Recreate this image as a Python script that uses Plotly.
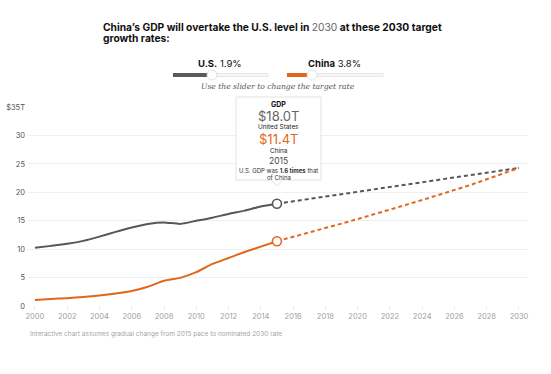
import plotly.graph_objects as go

# ---------------- data ----------------
hist_years = list(range(2000, 2016))
us_hist = [10.25, 10.58, 10.94, 11.46, 12.21, 13.04, 13.81, 14.45, 14.71, 14.45,
           14.99, 15.54, 16.20, 16.78, 17.52, 18.00]
china_hist = [1.05, 1.22, 1.38, 1.58, 1.85, 2.20, 2.65, 3.40, 4.45, 4.95,
              5.95, 7.40, 8.45, 9.50, 10.45, 11.40]

proj_years = list(range(2015, 2031))
us_proj = [18.00, 18.42, 18.84, 19.26, 19.68, 20.10, 20.52, 20.94, 21.36, 21.78,
           22.20, 22.62, 23.04, 23.46, 23.88, 24.30]
china_proj = [11.40, 12.15, 12.90, 13.70, 14.50, 15.30, 16.10, 16.95, 17.80, 18.65,
              19.50, 20.40, 21.30, 22.30, 23.30, 24.30]

x_ticks = list(range(2000, 2031, 2))
y_ticks = [0, 5, 10, 15, 20, 25, 30, 35]
y_ticktext = ["0", "5", "10", "15", "20", "25", "30", "$35T"]

us_rate = "1.9%"
china_rate = "3.8%"

GRAY = "#575757"
ORANGE = "#e2661a"

W, H = 551, 374
L, R, T, B = 28, 23, 107, 68


def px(x):
    return (x - L) / (W - L - R)


def py(y):
    return (H - B - y) / (H - T - B)


fig = go.Figure()

fig.add_trace(go.Scatter(x=hist_years, y=us_hist, mode="lines",
                         line=dict(color=GRAY, width=2, shape="spline", smoothing=0.6),
                         hoverinfo="skip"))
fig.add_trace(go.Scatter(x=hist_years, y=china_hist, mode="lines",
                         line=dict(color=ORANGE, width=2, shape="spline", smoothing=0.6),
                         hoverinfo="skip"))
fig.add_trace(go.Scatter(x=proj_years, y=us_proj, mode="lines",
                         line=dict(color=GRAY, width=2, dash="4px,3px"),
                         hoverinfo="skip"))
fig.add_trace(go.Scatter(x=proj_years, y=china_proj, mode="lines",
                         line=dict(color=ORANGE, width=2, dash="4px,3px"),
                         hoverinfo="skip"))
fig.add_trace(go.Scatter(x=[hist_years[-1]], y=[us_hist[-1]], mode="markers",
                         marker=dict(size=9, color="white", line=dict(color=GRAY, width=1.6)),
                         hoverinfo="skip"))
fig.add_trace(go.Scatter(x=[hist_years[-1]], y=[china_hist[-1]], mode="markers",
                         marker=dict(size=9, color="white", line=dict(color=ORANGE, width=1.6)),
                         hoverinfo="skip"))

shapes = []
# sliders
for x0, x1, xf, xk, col in [(173, 268, 209, 212, "#5a5a5a"), (287, 383, 308, 312, ORANGE)]:
    shapes.append(dict(type="rect", xref="paper", yref="paper",
                       x0=px(x0), x1=px(x1), y0=py(76.5), y1=py(73.5),
                       fillcolor="#f7f7f7", line=dict(color="#e2e2e2", width=0.8)))
    shapes.append(dict(type="rect", xref="paper", yref="paper",
                       x0=px(x0), x1=px(xf), y0=py(77), y1=py(73),
                       fillcolor=col, line=dict(width=0)))
    shapes.append(dict(type="circle", xref="paper", yref="paper",
                       x0=px(xk - 5), x1=px(xk + 5), y0=py(80), y1=py(70),
                       fillcolor="white", line=dict(color="#dadada", width=0.8)))
# tooltip box
shapes.append(dict(type="rect", xref="paper", yref="paper",
                   x0=px(236), x1=px(321), y0=py(180), y1=py(97),
                   fillcolor="white", line=dict(color="#dcdcdc", width=0.8)))
shapes.append(dict(type="path", xref="paper", yref="paper",
                   path=f"M {px(271)} {py(180)} L {px(277)} {py(186)} L {px(283)} {py(180)} Z",
                   fillcolor="white", line=dict(color="#dcdcdc", width=0.8)))
shapes.append(dict(type="line", xref="paper", yref="paper",
                   x0=px(271.7), x1=px(282.3), y0=py(180), y1=py(180),
                   line=dict(color="white", width=1.6)))

TF = "Inter, Liberation Sans, Arial, sans-serif"
ann = []


def A(text, x, y, size, color="#111", family=TF, xanchor="center"):
    ann.append(dict(text=text, x=px(x), y=py(y), xref="paper", yref="paper",
                    xanchor=xanchor, yanchor="middle", showarrow=False,
                    font=dict(size=size, color=color, family=family)))


A("<b>China’s GDP will overtake the U.S. level in </b><span style='color:#666'>2030</span><b> at these 2030 target</b>",
  101, 27.5, 10.25, xanchor="left")
A("<b>growth rates:</b>", 101, 38.5, 10.25, xanchor="left")
A(f"<b>U.S.</b> {us_rate}", 220, 63.5, 9.5)
A(f"<b>China</b> {china_rate}", 334.5, 63.5, 9.5)
A("<i>Use the slider to change the target rate</i>", 278, 86.5, 7.6, color="#555",
  family="DejaVu Serif, Liberation Serif, serif")

A("<b>GDP</b>", 278.5, 105, 7)
A(f"${us_hist[-1]:.1f}T", 278.5, 115.5, 13, color="#666")
A("United States", 278.5, 127.5, 6.4, color="#222")
A(f"${china_hist[-1]:.1f}T", 278.5, 139, 13, color=ORANGE)
A("China", 278.5, 150.5, 6.4, color="#222")
A(f"{hist_years[-1]}", 278.5, 161, 8.5, color="#444")
A(f"U.S. GDP was <b>{us_hist[-1] / china_hist[-1]:.1f} times</b> that", 278.5, 170.5, 6.0, color="#333")
A("of China", 278.5, 177, 6.0, color="#333")

A("Interactive chart assumes gradual change from 2015 pace to nominated 2030 rate",
  28, 334, 6.5, color="#a5a5a5", xanchor="left")

fig.update_layout(
    width=W, height=H,
    margin=dict(l=L, r=R, t=T, b=B, autoexpand=False),
    paper_bgcolor="white", plot_bgcolor="white",
    showlegend=False,
    shapes=shapes, annotations=ann,
    font=dict(family=TF),
    xaxis=dict(range=[1999.57, 2030.56], tickvals=x_ticks, showgrid=False, zeroline=False,
               ticks="outside", ticklen=3, tickcolor="#e4e4e4", automargin=False,
               showline=False, tickfont=dict(size=7.5, color="#a0a0a0", family=TF),
               fixedrange=True),
    yaxis=dict(range=[0, 35.02], tickvals=y_ticks, ticktext=y_ticktext, automargin=False,
               showgrid=True, gridcolor="#efefef", gridwidth=1, zeroline=False,
               tickfont=dict(size=7.5, color="#555", family=TF), ticklabelstandoff=2,
               fixedrange=True),
)

fig.write_html("out.html", config={"displayModeBar": False},
               post_script="document.body.style.margin='0';")
